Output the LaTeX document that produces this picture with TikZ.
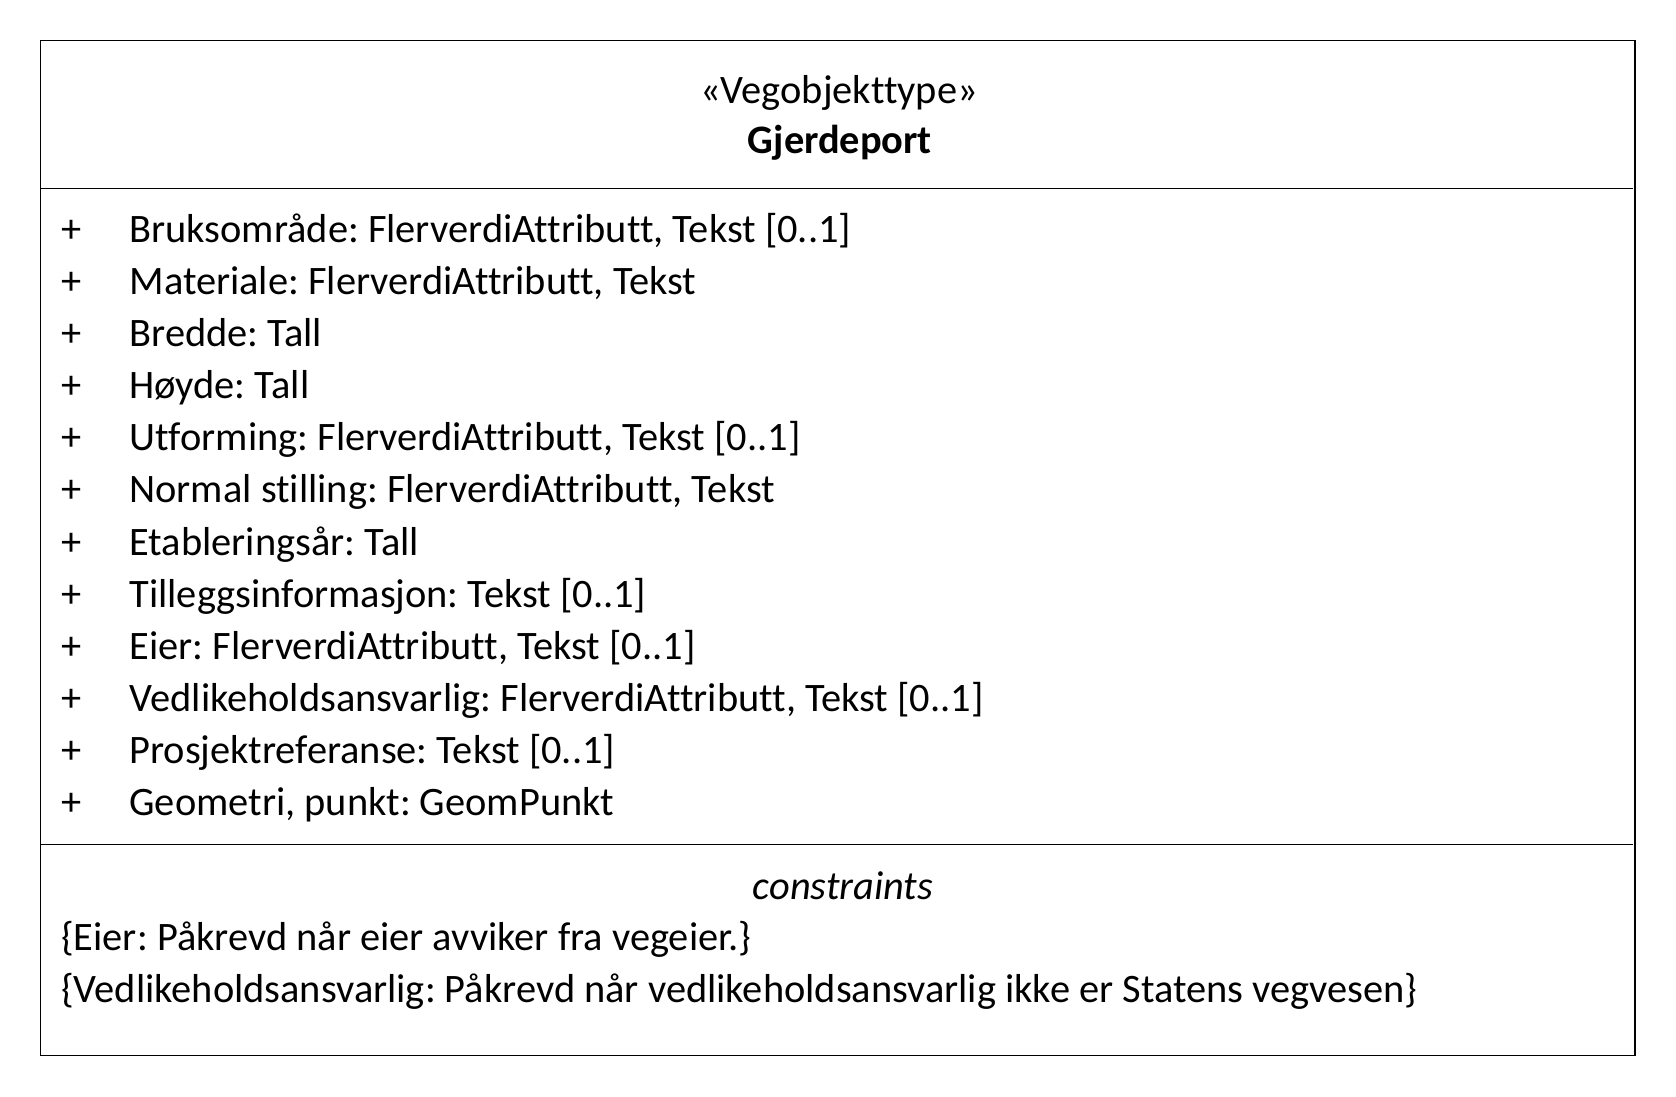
\documentclass[tikz,border=0pt]{standalone}
\usepackage{fontspec}
\setmainfont{Carlito}[Ligatures={NoCommon,TeX}]
\frenchspacing
\begin{document}
\begin{tikzpicture}[x=1pt,y=-1pt,
  frame/.style={draw=black,line width=1.3pt},
  sep/.style={draw=black,line width=1.3pt},
  txt/.style={inner sep=0pt,font=\fontsize{40.4}{48}\selectfont},
  attr/.style={txt,anchor=base west},
  plus/.style={txt,anchor=base west}]
\useasboundingbox (0,0) rectangle (1676,1096);
% class frame and compartment separators
\draw[frame] (40.5,40.5) rectangle (1635,1055.3);
\coordinate (s1l) at (40.5,188.3);
\coordinate (s1r) at (1632.7,188.3);
\coordinate (s2l) at (40.5,844.3);
\coordinate (s2r) at (1632.7,844.3);
\draw[sep] (s1l) -- (s1r);
\draw[sep] (s2l) -- (s2r);
% header
\node[txt,anchor=base] (stereo) at (839,103.5) {«Vegobjekttype»};
\node[txt,anchor=base,font=\fontsize{40.4}{48}\selectfont\bfseries] (name) at (840,153.5) {Gjerdeport};
% attributes
\foreach \t [count=\i from 0] in {
  {Bruksområde: FlerverdiAttributt, Tekst [0..1]},
  {Materiale: FlerverdiAttributt, Tekst},
  {Bredde: Tall},
  {Høyde: Tall},
  {Utforming: FlerverdiAttributt, Tekst [0..1]},
  {Normal stilling: FlerverdiAttributt, Tekst},
  {Etableringsår: Tall},
  {Tilleggsinformasjon: Tekst [0..1]},
  {Eier: FlerverdiAttributt, Tekst [0..1]},
  {Vedlikeholdsansvarlig: FlerverdiAttributt, Tekst [0..1]},
  {Prosjektreferanse: Tekst [0..1]},
  {Geometri, punkt: GeomPunkt}}{
  \node[plus] (p\i) at (61,242+52.18*\i) {+};
  \node[attr] (a\i) at (129.3,242+52.18*\i) {\t};
}
% constraints
\node[txt,anchor=base,font=\fontsize{40.4}{48}\selectfont\itshape] (ctitle) at (843,899.5) {constraints};
\node[attr] (c1) at (61,950.5) {\{Eier: Påkrevd når eier avviker fra vegeier.\}};
\node[attr] (c2) at (61,1002.5) {\{Vedlikeholdsansvarlig: Påkrevd når vedlikeholdsansvarlig ikke er Statens vegvesen\}};
\end{tikzpicture}
\end{document}
